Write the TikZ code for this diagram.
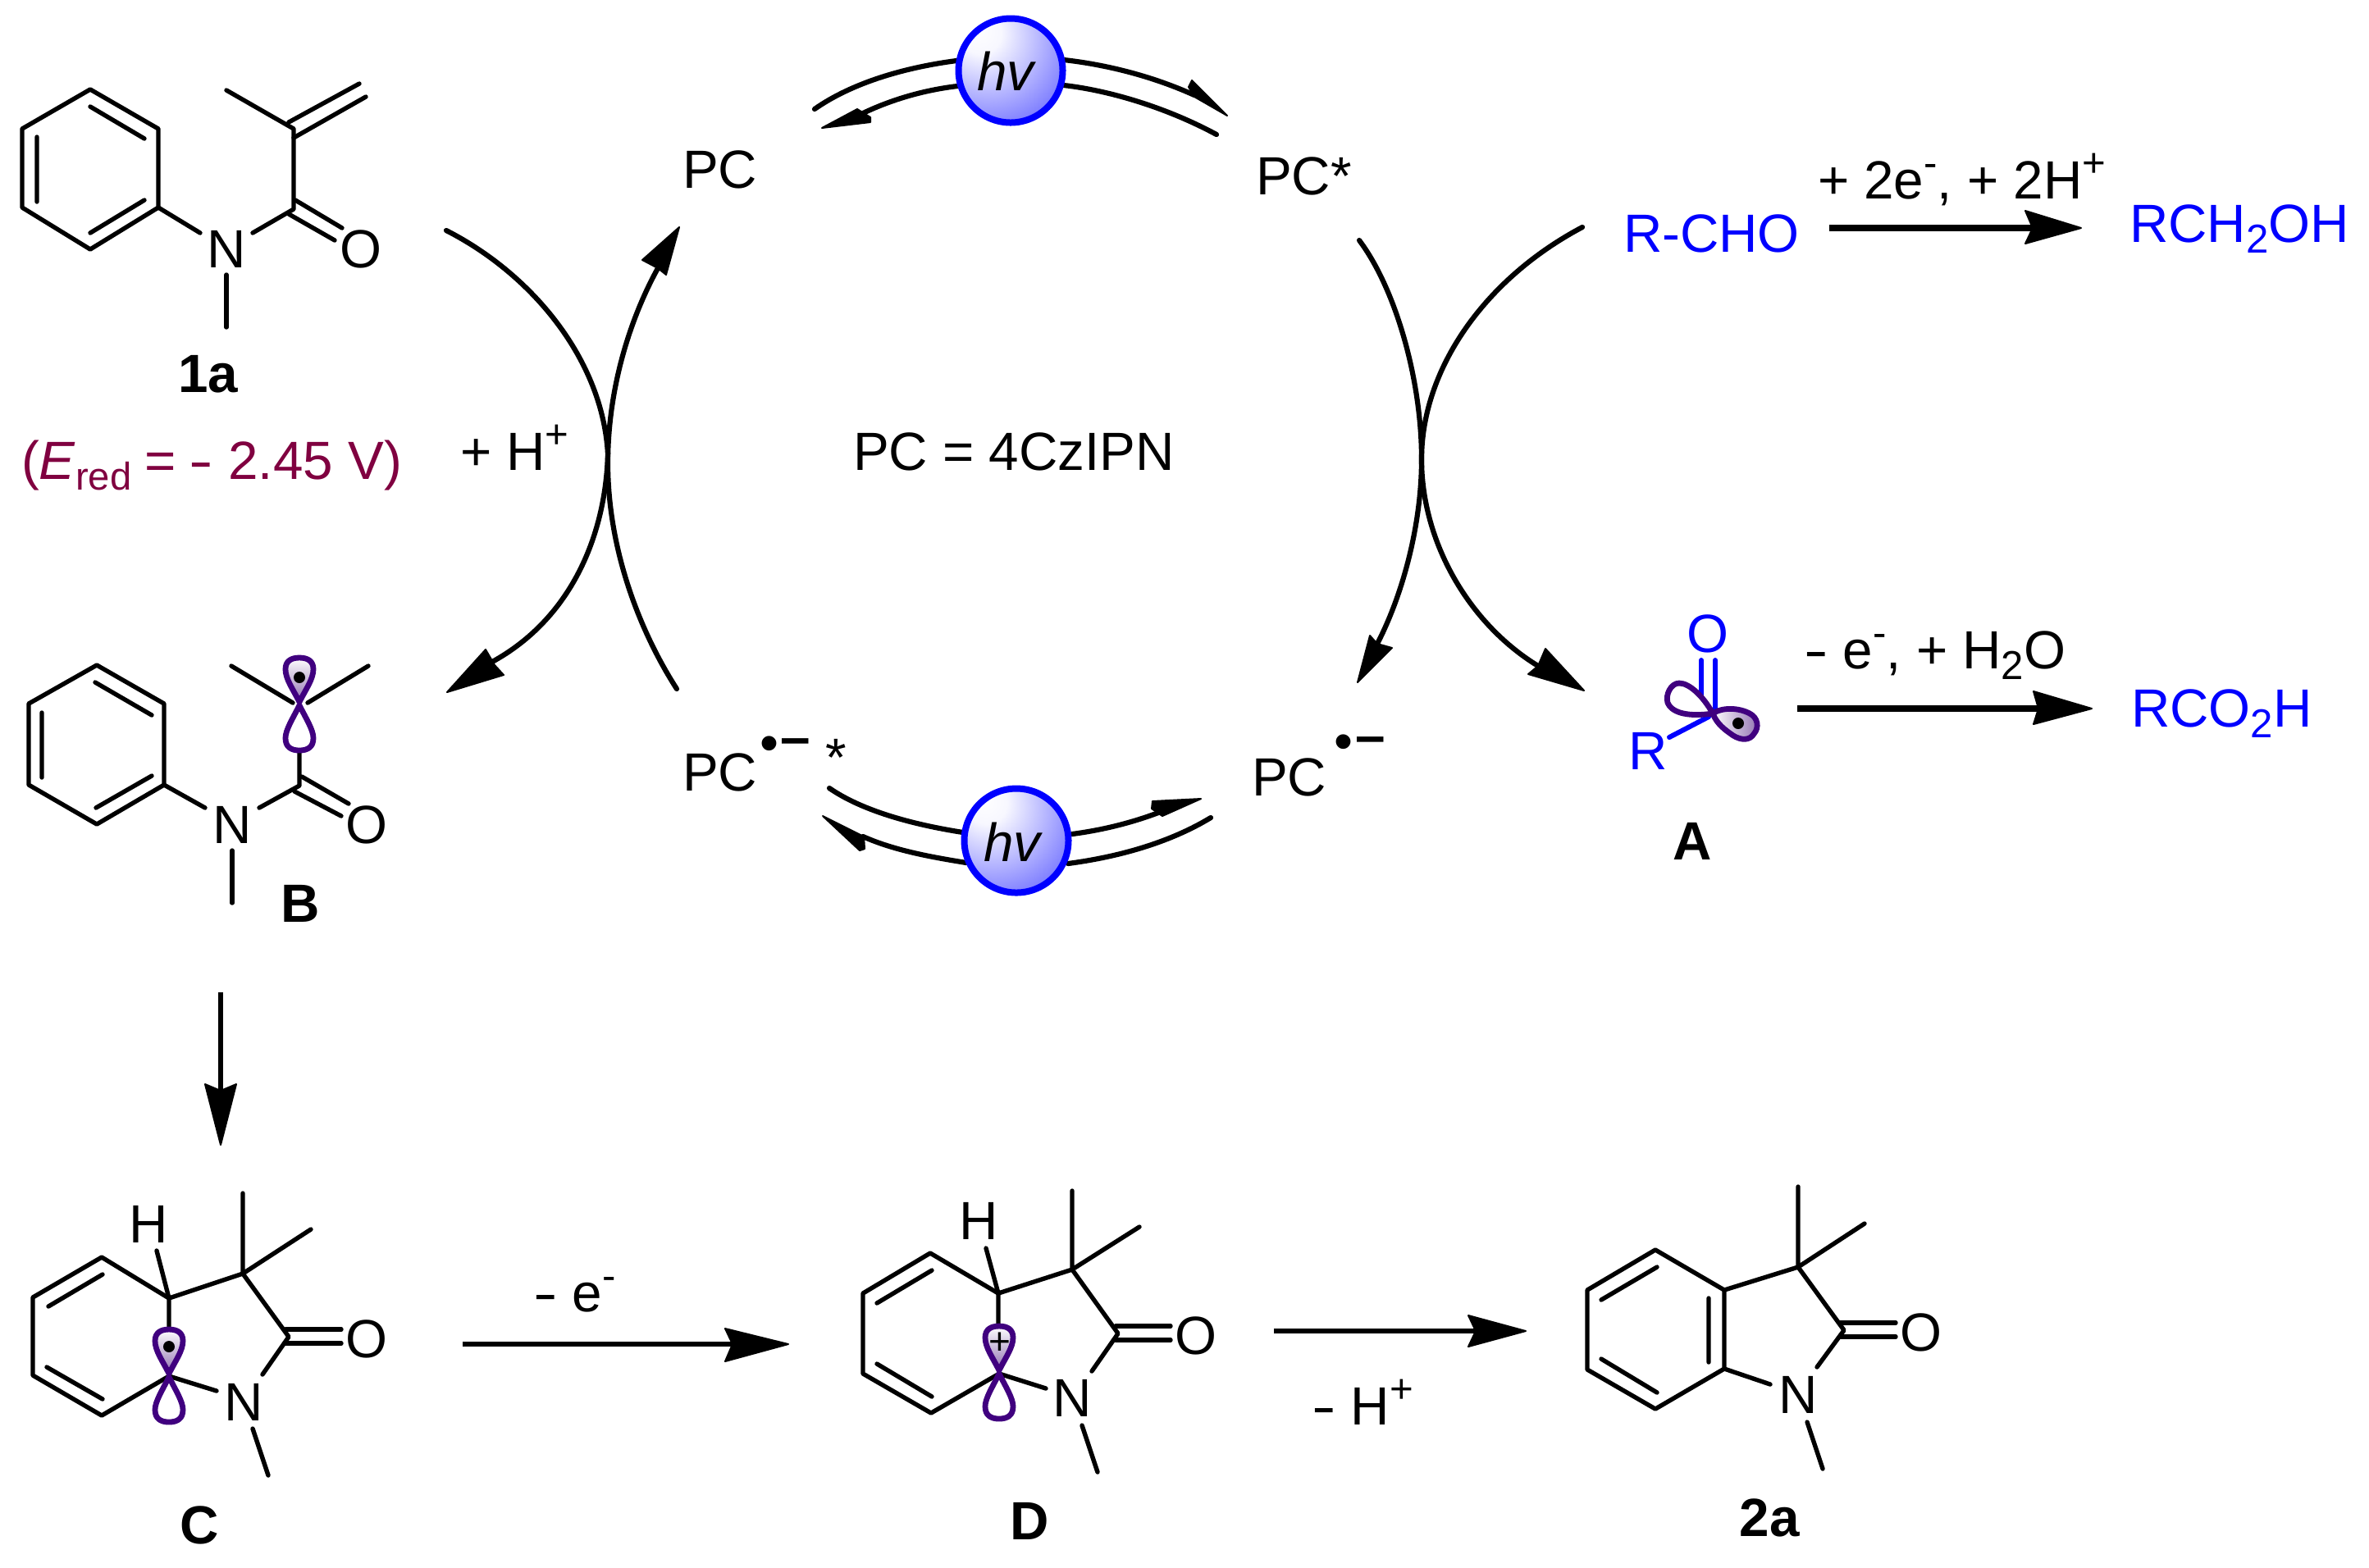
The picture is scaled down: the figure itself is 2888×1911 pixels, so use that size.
\documentclass[tikz,border=0pt]{standalone}
\usepackage{fontspec}
\setmainfont{Liberation Sans}
\definecolor{lobecol}{HTML}{40007F}
\definecolor{lobefill}{HTML}{8F6FB0}
\definecolor{redox}{HTML}{800040}
\definecolor{chemblue}{HTML}{0000FF}
\pgfdeclareradialshading{hvshade}{\pgfpoint{-16bp}{20bp}}{rgb(0bp)=(1,1,1); rgb(10bp)=(0.97,0.97,1); rgb(38bp)=(0.52,0.52,1); rgb(62bp)=(0,0,1); rgb(100bp)=(0,0,1)}
\newcommand\mysup[1]{\raisebox{0.41em}{\fontsize{12.3}{14}\selectfont #1}}
\newcommand\mysub[1]{\raisebox{-0.2em}{\fontsize{12.3}{14}\selectfont #1}}
\newcommand\mns{\scalebox{1.35}[1]{-}}
\tikzset{
  bond/.style={line width=1.35pt,line cap=round,line join=round},
  bluebond/.style={bond,draw=chemblue,line width=1.5pt},
  curve/.style={line width=1.55pt,line cap=round},
  straight/.style={line width=1.85pt},
  thinarrow/.style={line width=1.55pt},
  head/.style={fill=black,draw=black,line width=0.5pt,line join=round},
  txt/.style={inner sep=0,outer sep=0,anchor=base west,font=\fontsize{16.4}{19}\selectfont},
  atom/.style={inner sep=0,outer sep=0,anchor=base,font=\fontsize{16.4}{19}\selectfont},
  lbl/.style={inner sep=0,outer sep=0,anchor=base,font=\fontsize{16.4}{19}\selectfont\bfseries},
  hvball/.style={circle,draw=chemblue,line width=2pt,shading=hvshade,minimum size=31.75pt,inner sep=0,outer sep=0},
  lobeline/.style={draw=lobecol,line width=1.7pt,line join=round},
  orbital/.pic={
    \path[lobeline,fill=white] (0,2) .. controls (-8,18) and (-17,32) .. (-17,42) .. controls (-17,53) and (-10,57) .. (0,57) .. controls (10,57) and (17,53) .. (17,42) .. controls (17,32) and (8,18) .. cycle;
    \path[lobeline,top color=white,bottom color=lobefill] (0,-2) .. controls (-8,-18) and (-17,-30) .. (-17,-42) .. controls (-17,-52) and (-10,-56) .. (0,-56) .. controls (10,-56) and (17,-52) .. (17,-42) .. controls (17,-30) and (8,-18) .. cycle;
  }
}
\begin{document}
\begin{tikzpicture}[x=0.25pt,y=-0.25pt]
\useasboundingbox[fill=white] (0,0) rectangle (2888,1911);

% ---------- 1a
\draw[bond] (110,109)--(193,157)--(193,253)--(110,304)--(27,253)--(27,157)--cycle;
\draw[bond] (110,130)--(176,169) (45,167)--(45,246) (110,284)--(176,244);
\draw[bond] (193,253)--(244,284) (308,284)--(358,255)--(358,157)--(276,110);
\draw[bond] (352,261)--(408,293) (360,244)--(417,278);
\draw[bond] (352,149)--(438,102) (358,168)--(446,118);
\draw[bond] (276,335)--(276,399);
\node[atom] (n1a) at (276,326) {N};
\node[atom] (o1a) at (440,326) {O};
\node[lbl] (l1a) at (254,478) {1a};
\node[txt,text=redox] (ered) at (26,584) {(\textit{E}\mysub{\fontsize{11.8}{14}\selectfont red}\hspace{4pt}=\hspace{4pt}\mns{} 2.45 V)};
\node[txt] (hplus) at (561,573) {+ H\mysup{+}};

% ---------- cycle labels
\node[txt] (pc) at (832,229) {PC};
\node[txt] (pcs) at (1531,237) {PC*};
\node[txt] (pceq) at (1040,573) {PC = 4CzIPN};
\node[txt] (pcr) at (1526,970) {PC};
\node[atom] (pcrd) at (1638,926) {•};
\node[atom,font=\fontsize{16.4}{19}\selectfont\bfseries] (pcrm) at (1671,919) {–};
\node[txt] (pcl) at (832,964) {PC};
\node[atom] (pcld) at (938,928) {•};
\node[atom,font=\fontsize{16.4}{19}\selectfont\bfseries] (pclm) at (970,921) {–};
\node[atom] (pcls) at (1019,946) {*};

% ---------- photo arcs, top
\coordinate (t1s) at (993,133); \coordinate (t1e) at (1166,74);
\coordinate (t2s) at (1167,105); \coordinate (t2e) at (1050,139);
\coordinate (t3s) at (1297,73); \coordinate (t3e) at (1456,116);
\coordinate (t4s) at (1297,104); \coordinate (t4e) at (1483,164);
\draw[curve] (t1s) .. controls (1040,100) and (1105,82) .. (t1e);
\draw[curve] (t2s) .. controls (1125,110) and (1085,122) .. (t2e);
\draw[curve] (t3s) .. controls (1350,79) and (1405,93) .. (t3e);
\draw[curve] (t4s) .. controls (1350,110) and (1420,130) .. (t4e);
\path[head] (1002,156)--(1045,133)--(1061,143)--(1061,149)--cycle;
\path[head] (1496,141)--(1453,98)--(1449,106)--(1456,118)--cycle;
\node[hvball] (ball1) at (1232,86) {};
\node[atom,font=\fontsize{16.4}{19}\selectfont\itshape] (hv1) at (1226,110) {hv};

% ---------- photo arcs, bottom
\coordinate (b1s) at (1011,961); \coordinate (b1e) at (1174,1015);
\coordinate (b2s) at (1178,1052); \coordinate (b2e) at (1052,1020);
\coordinate (b3s) at (1307,1017); \coordinate (b3e) at (1412,991);
\coordinate (b4s) at (1302,1053); \coordinate (b4e) at (1476,997);
\draw[curve] (b1s) .. controls (1050,988) and (1110,1005) .. (b1e);
\draw[curve] (b2s) .. controls (1135,1045) and (1090,1037) .. (b2e);
\draw[curve] (b3s) .. controls (1345,1012) and (1380,1003) .. (b3e);
\draw[curve] (b4s) .. controls (1370,1044) and (1430,1025) .. (b4e);
\path[head] (1003,995)--(1053,1020)--(1054,1035)--(1048,1037)--cycle;
\path[head] (1464,974)--(1405,977)--(1404,986)--(1417,995)--cycle;
\node[hvball] (ball2) at (1239,1025) {};
\node[atom,font=\fontsize{16.4}{19}\selectfont\itshape] (hv2) at (1234,1050) {hv};

% ---------- left crossing arcs
\coordinate (la) at (544,281); \coordinate (lm) at (741,554); \coordinate (lb) at (600,807);
\coordinate (lc) at (825,840); \coordinate (ln) at (741,565); \coordinate (ld) at (802,327);
\draw[curve] (la) .. controls (650,335) and (735,440) .. (lm) .. controls (738,655) and (695,755) .. (lb);
\draw[curve] (lc) .. controls (780,770) and (741,670) .. (ln) .. controls (741,470) and (770,385) .. (ld);
\path[head] (545,844)--(592,792)--(603,811)--(614,823)--cycle;
\path[head] (828,277)--(783,317)--(802,327)--(812,335)--cycle;

% ---------- right crossing arcs
\coordinate (ra) at (1657,293); \coordinate (rm) at (1733,560); \coordinate (rb) at (1679,785);
\coordinate (rc) at (1929,277); \coordinate (rd) at (1875,812);
\draw[curve] (ra) .. controls (1700,350) and (1733,460) .. (rm) .. controls (1733,640) and (1710,725) .. (rb);
\draw[curve] (rc) .. controls (1810,340) and (1733,450) .. (rm) .. controls (1733,660) and (1790,760) .. (rd);
\path[head] (1655,832)--(1670,775)--(1679,785)--(1697,790)--cycle;
\path[head] (1931,842)--(1884,791)--(1875,812)--(1863,822)--cycle;

% ---------- aldehyde side
\node[txt,text=chemblue] (rcho) at (1979,307) {R-CHO};
\node[txt] (two) at (2216,242) {+ 2e\mysup{-}, + 2H\mysup{+}};
\node[txt,text=chemblue] (rch2oh) at (2596,295) {RCH\mysub{2}OH};
\coordinate (s1s) at (2230,278); \coordinate (s1e) at (2478,278);
\draw[straight] (s1s) -- (s1e);
\path[head] (2537,278)--(2469,257)--(2478,278)--(2469,297)--cycle;

\node[txt] (one) at (2199,815) {\mns{} e\mysup{-}, + H\mysub{2}O};
\node[txt,text=chemblue] (rco2h) at (2598,886) {RCO\mysub{2}H};
\coordinate (s2s) at (2191,864); \coordinate (s2e) at (2485,864);
\draw[straight] (s2s) -- (s2e);
\path[head] (2550,864)--(2479,843)--(2485,864)--(2479,883)--cycle;

% ---------- A
\draw[bluebond] (2074,805)--(2074,855) (2091,805)--(2091,868);
\draw[bluebond] (2035,899)--(2083,874);
\path[lobeline,fill=white] (2088,870) .. controls (2077,850) and (2060,833) .. (2047,833) .. controls (2037,833) and (2030,847) .. (2033,857) .. controls (2037,867) and (2053,875) .. cycle;
\path[lobeline,left color=white,right color=lobefill] (2088,870) .. controls (2100,862) and (2120,863) .. (2133,870) .. controls (2143,875) and (2145,887) .. (2138,895) .. controls (2133,903) and (2123,903) .. (2113,897) .. controls (2103,890) and (2093,883) .. cycle;
\fill (2119,882) circle[radius=7];
\node[atom,text=chemblue] (oa) at (2082,795) {O};
\node[txt,text=chemblue] (ra1) at (1985,938) {R};
\node[lbl] (la1) at (2063,1048) {A};

% ---------- B
\draw[bond] (118,811)--(200,858)--(200,957)--(118,1005)--(35,957)--(35,858)--cycle;
\draw[bond] (116,832)--(185,872) (51,869)--(51,948) (117,985)--(185,946);
\draw[bond] (200,957)--(250,985) (316,985)--(365,958)--(365,900);
\draw[bond] (359,965)--(416,995) (368,947)--(425,980);
\draw[bond] (283,1037)--(283,1101);
\draw[bond] (282,812)--(357,857) (449,812)--(375,857);
\pic (orbb) at (365,858) {orbital};
\fill (365,826) circle[radius=7];
\node[atom] (nb) at (283,1028) {N};
\node[atom] (ob) at (447,1028) {O};
\node[lbl] (lb1) at (366,1124) {B};

% ---------- B to C
\coordinate (v1s) at (269,1210); \coordinate (v1e) at (269,1330);
\draw[thinarrow] (v1s) -- (v1e);
\path[head] (269,1396)--(250,1322)--(269,1330)--(288,1322)--cycle;

% ---------- C
\draw[bond] (206,1583)--(124,1533)--(40,1582)--(40,1677)--(124,1726)--(206,1678)--(264,1696);
\draw[bond] (59,1593)--(125,1554) (57,1667)--(125,1706);
\draw[bond] (206,1640)--(206,1583)--(296,1553)--(352,1630)--(320,1676);
\draw[bond] (296,1455)--(296,1553)--(379,1499);
\draw[bond] (348,1621)--(416,1621) (348,1638)--(416,1638);
\draw[bond] (308,1742)--(327,1799) (191,1525)--(206,1583);
\pic (orbc) at (206,1677) {orbital};
\fill (206,1642) circle[radius=7];
\node[atom] (hc) at (181,1515) {H};
\node[atom] (nc) at (297,1732) {N};
\node[atom] (oc) at (447,1655) {O};
\node[lbl] (lc1) at (243,1882) {C};

% ---------- C to D
\node[txt] (me) at (650,1599) {\mns{} e\mysup{-}};
\coordinate (h1s) at (564,1639); \coordinate (h1e) at (893,1639);
\draw[thinarrow] (h1s) -- (h1e);
\path[head] (961,1639)--(884,1620)--(893,1639)--(884,1660)--cycle;

% ---------- D
\draw[bond] (1217,1577)--(1134,1528)--(1052,1577)--(1052,1675)--(1135,1723)--(1218,1675)--(1275,1693);
\draw[bond] (1069,1589)--(1136,1549) (1069,1663)--(1136,1703);
\draw[bond] (1217,1640)--(1217,1577)--(1307,1548)--(1363,1626)--(1331,1672);
\draw[bond] (1307,1452)--(1307,1548)--(1389,1496);
\draw[bond] (1360,1617)--(1427,1617) (1360,1634)--(1427,1634);
\draw[bond] (1319,1738)--(1338,1795) (1202,1522)--(1217,1577);
\pic (orbd) at (1218,1673) {orbital};
\node[inner sep=0,outer sep=0,font=\fontsize{11.5}{14}\selectfont] (pd) at (1219,1638) {+};
\node[atom] (hd) at (1193,1511) {H};
\node[atom] (nd) at (1307,1727) {N};
\node[atom] (od) at (1458,1651) {O};
\node[lbl] (ld1) at (1255,1877) {D};

% ---------- D to 2a
\node[txt] (mh) at (1599,1737) {\mns{} H\mysup{+}};
\coordinate (h2s) at (1553,1623); \coordinate (h2e) at (1799,1623);
\draw[thinarrow] (h2s) -- (h2e);
\path[head] (1860,1623)--(1790,1604)--(1799,1623)--(1790,1642)--cycle;

% ---------- 2a
\draw[bond] (2018,1524)--(1935,1573)--(1935,1670)--(2018,1718)--(2102,1669)--(2102,1573)--cycle;
\draw[bond] (1952,1585)--(2020,1545) (2083,1583)--(2083,1661) (1952,1657)--(2020,1698);
\draw[bond] (2102,1573)--(2192,1545)--(2248,1622)--(2215,1667);
\draw[bond] (2102,1669)--(2158,1688);
\draw[bond] (2192,1447)--(2192,1545)--(2273,1492);
\draw[bond] (2243,1613)--(2311,1613) (2243,1630)--(2311,1630);
\draw[bond] (2203,1734)--(2222,1791);
\node[atom] (n2a) at (2192,1723) {N};
\node[atom] (o2a) at (2342,1647) {O};
\node[lbl] (l2a) at (2157,1873) {2a};
\end{tikzpicture}
\end{document}
